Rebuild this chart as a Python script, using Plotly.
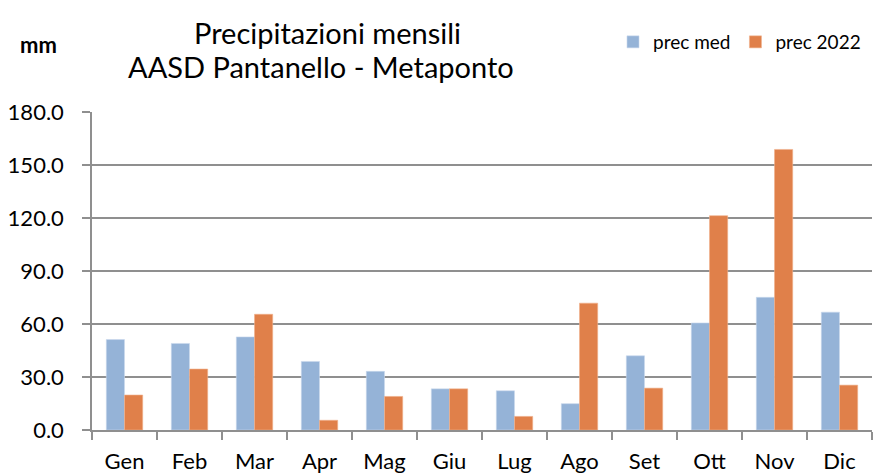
import plotly.graph_objects as go

months = ["Gen", "Feb", "Mar", "Apr", "Mag", "Giu", "Lug", "Ago", "Set", "Ott", "Nov", "Dic"]
prec_med = [51.2, 49.0, 52.7, 38.8, 33.2, 23.3, 22.2, 14.9, 42.0, 60.6, 75.1, 66.7]
prec_2022 = [19.8, 34.5, 65.5, 5.5, 19.0, 23.3, 7.7, 71.8, 23.7, 121.3, 158.8, 25.4]
y_ticks = [0, 30, 60, 90, 120, 150, 180]

FONT = "Lato"
GRID = "#8f8f8f"

W0, W1 = 92, 872
H0, H1 = 112, 430


def px2paper(px, py):
    return (px - W0) / (W1 - W0), (H1 - py) / (H1 - H0)


fig = go.Figure()
fig.add_trace(go.Bar(x=months, y=prec_med, name="prec med",
                     marker=dict(color="#95B3D7", line=dict(width=0.6, color="#c9d9ec"))))
fig.add_trace(go.Bar(x=months, y=prec_2022, name="prec 2022",
                     marker=dict(color="#E0804A", line=dict(width=0.6, color="#f0b08c"))))

annots = []
for text, px, py, size in [
    ("Precipitazioni mensili", 327, 33, 29),
    ("AASD Pantanello - Metaponto", 321, 66, 29),
    ("<b>mm</b>", 38, 45, 22),
]:
    ax, ay = px2paper(px, py)
    annots.append(dict(text=text, x=ax, y=ay, xref="paper", yref="paper",
                       xanchor="center", yanchor="middle", showarrow=False,
                       font=dict(size=size, family=FONT, color="#000000")))

lx, ly = px2paper(613, 42)

fig.update_layout(
    width=873, height=476,
    margin=dict(l=W0, r=873 - W1, t=H0, b=476 - H1, autoexpand=False),
    paper_bgcolor="white", plot_bgcolor="white",
    barmode="group", bargap=0.44, bargroupgap=0,
    font=dict(family=FONT, color="#000000", size=20),
    showlegend=True,
    legend=dict(orientation="h", x=lx, y=ly, xanchor="left", yanchor="middle",
                font=dict(size=19, family=FONT), itemwidth=30, traceorder="normal",
                bgcolor="rgba(0,0,0,0)"),
    annotations=annots,
)

fig.update_xaxes(
    showgrid=False, showline=True, linecolor=GRID, linewidth=1.5,
    ticks="outside", ticklen=8, tickcolor=GRID, tickwidth=1.5,
    tickson="boundaries", tickfont=dict(size=22, family=FONT),
    ticklabelstandoff=11,
)
fig.update_yaxes(
    range=[0, 180], tickvals=y_ticks, tickformat=".1f",
    showgrid=True, gridcolor=GRID, gridwidth=1.5,
    showline=True, linecolor=GRID, linewidth=1.5,
    ticks="outside", ticklen=8, tickcolor=GRID, tickwidth=1.5,
    tickfont=dict(size=22, family=FONT), zeroline=False,
    ticklabelstandoff=14,
)

fig.write_html("out.html", config={"displayModeBar": False},
               post_script="document.body.style.margin='0';")
